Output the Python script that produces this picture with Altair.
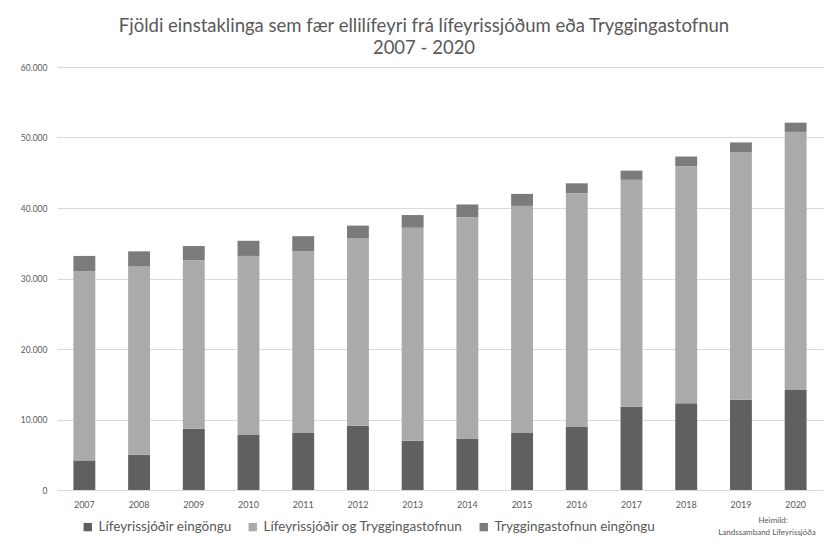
import altair as alt
import pandas as pd

years = [str(y) for y in range(2007, 2021)]
series = ["Lífeyrissjóðir eingöngu", "Lífeyrissjóðir og Tryggingastofnun", "Tryggingastofnun eingöngu"]
lif_only = [4200, 5000, 8700, 7800, 8100, 9100, 7000, 7300, 8100, 9000, 11800, 12300, 12800, 14200]
both = [26800, 26700, 23900, 25400, 25800, 26600, 30200, 31400, 32200, 33100, 32200, 33600, 35100, 36600]
tr_only = [2200, 2150, 2000, 2150, 2100, 1800, 1800, 1800, 1700, 1400, 1300, 1400, 1400, 1300]
colors = ["#606060", "#aaaaaa", "#7b7b7b"]

rows = []
for i, y in enumerate(years):
    for k, vals in enumerate([lif_only, both, tr_only]):
        rows.append({"Ár": y, "Flokkur": series[k], "Fjöldi": vals[i], "röð": k})
df = pd.DataFrame(rows)

FONT = "Lato"
TXT = "#595959"

bars = alt.Chart(df).mark_bar().encode(
    x=alt.X("Ár:N", sort=years, title=None,
            scale=alt.Scale(paddingInner=0.6, paddingOuter=0.3),
            axis=alt.Axis(labelAngle=0, ticks=False, domain=False, labelFontSize=9,
                          labelColor=TXT, labelFont=FONT, labelPadding=10)),
    y=alt.Y("Fjöldi:Q", title=None, stack="zero",
            scale=alt.Scale(domain=[0, 60000]),
            axis=alt.Axis(values=[0, 10000, 20000, 30000, 40000, 50000, 60000],
                          labelExpr="replace(format(datum.value, ','), ',', '.')",
                          ticks=False, domain=False, labelFontSize=8.5, labelColor=TXT,
                          labelFont=FONT, gridColor="#d9d9d9", labelPadding=10)),
    color=alt.Color("Flokkur:N", sort=series,
                    scale=alt.Scale(domain=series, range=colors),
                    legend=alt.Legend(title=None, orient="none", direction="horizontal",
                                      legendX=24, legendY=453, symbolType="square",
                                      symbolSize=70, symbolStrokeWidth=0, labelLimit=0,
                                      labelFontSize=13.5, labelFont=FONT, labelColor=TXT,
                                      columnPadding=14, labelOffset=4)),
    order=alt.Order("röð:Q", sort="ascending"),
)

source = alt.Chart(pd.DataFrame({"t": ["Heimild:"]})).mark_text(
    fontSize=8, font=FONT, color=TXT, fill=TXT, align="center", baseline="middle"
).encode(x=alt.value(716), y=alt.value(454), text="t:N")
source2 = alt.Chart(pd.DataFrame({"t": ["Landssamband Lífeyrissjóða"]})).mark_text(
    fontSize=8, font=FONT, color=TXT, fill=TXT, align="center", baseline="middle"
).encode(x=alt.value(710), y=alt.value(466), text="t:N")

chart = alt.layer(bars, source, source2).properties(
    width=766, height=423,
    autosize=alt.AutoSizeParams(type="none"),
    padding={"left": 49, "top": 59, "right": 1, "bottom": 52},
    title=alt.TitleParams(
        text=["Fjöldi einstaklinga sem fær ellilífeyri frá lífeyrissjóðum eða Tryggingastofnun",
              "2007 - 2020"],
        fontSize=18.5, font=FONT, fontWeight="normal", color=TXT,
        anchor="middle", dx=-16, offset=6, lineHeight=22),
).configure_view(stroke=None)

chart.save("out.html", embed_options={"renderer": "svg", "actions": False})
